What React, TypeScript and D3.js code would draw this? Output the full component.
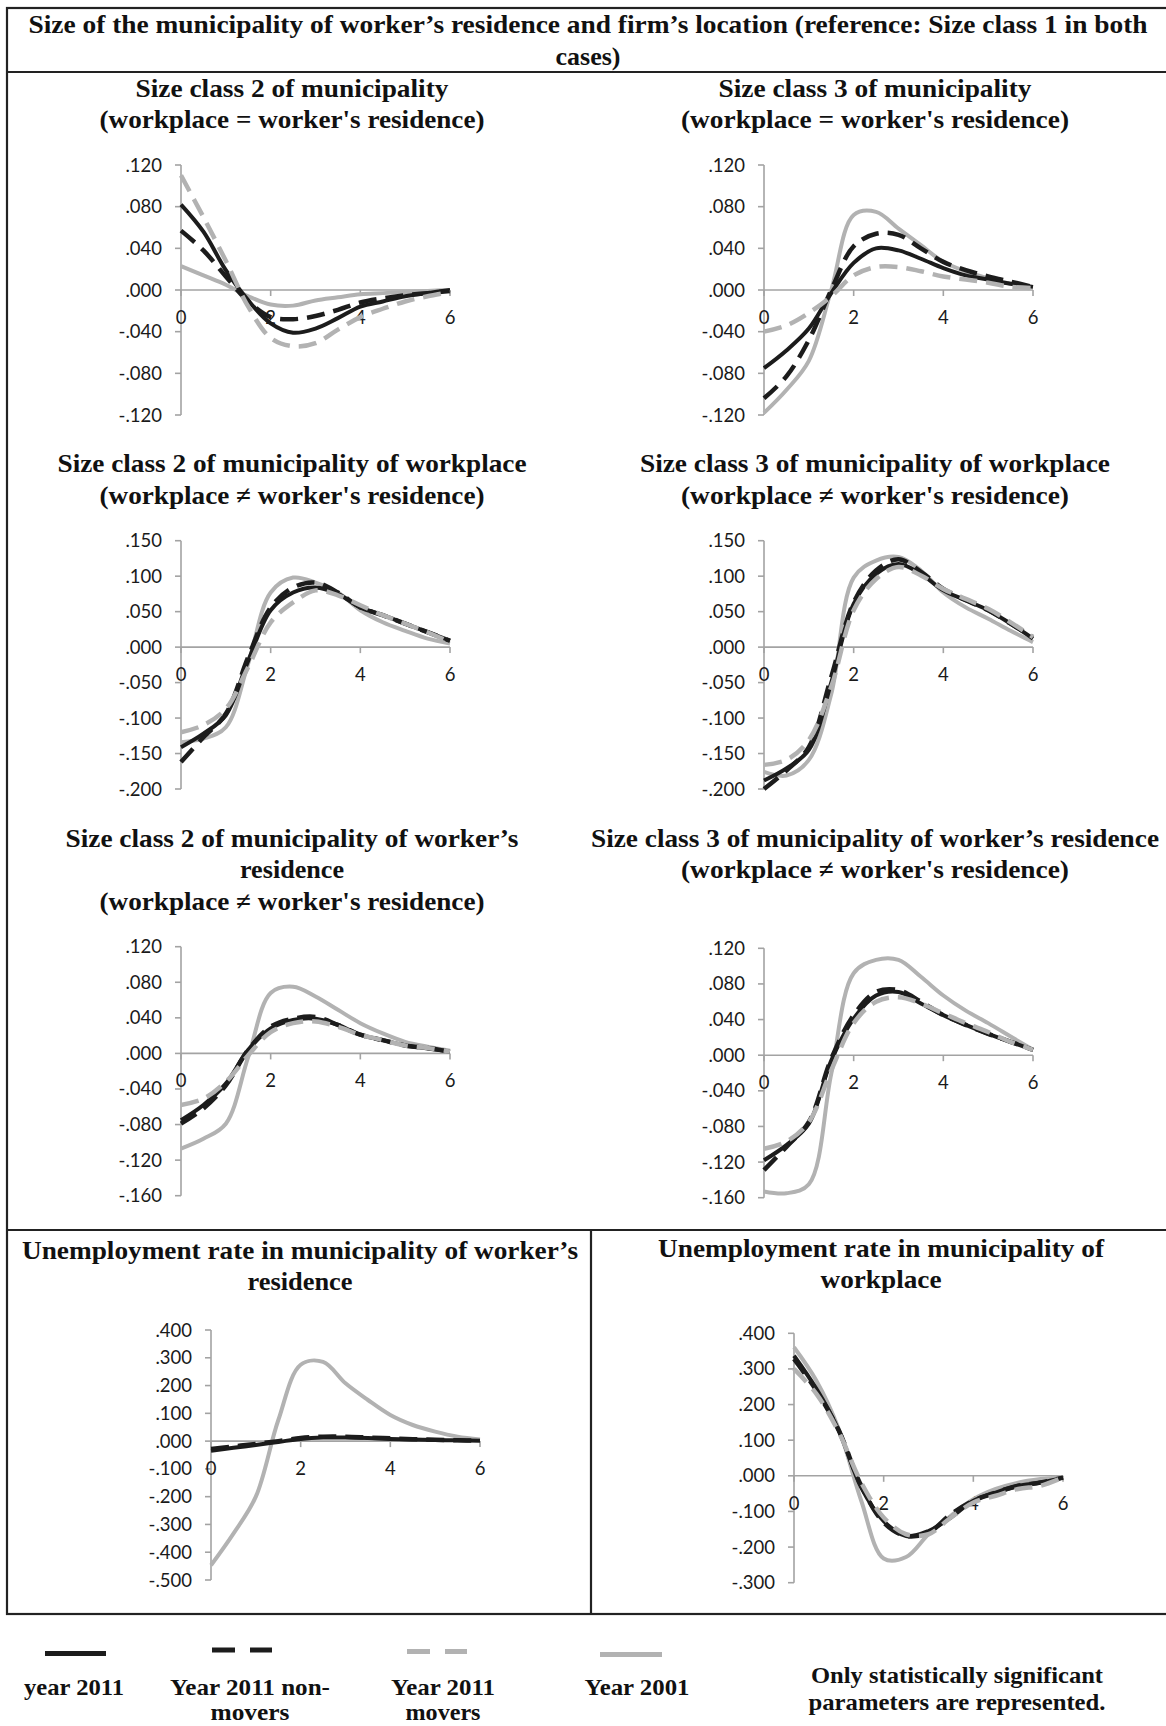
import React from "react";
import * as d3 from "d3";

// ---------------- DATA ----------------
const X_VALUES = [0, 0.5, 1, 1.5, 2, 2.5, 3, 3.5, 4, 4.5, 5, 5.5, 6];
const X_TICKS = [0, 2, 4, 6];
const SERIES_NAMES = ["year 2011", "Year 2011 non-movers", "Year 2011 movers", "Year 2001"];

// Panel 1: Size class 2 of municipality (workplace = worker's residence)
const p1Year2011 = [0.082, 0.056, 0.019, -0.010, -0.032, -0.041, -0.037, -0.027, -0.016, -0.011, -0.006, -0.003, 0.0];
const p1NonMovers = [0.057, 0.038, 0.013, -0.011, -0.026, -0.028, -0.025, -0.019, -0.012, -0.008, -0.005, -0.003, -0.001];
const p1Movers = [0.110, 0.070, 0.028, -0.016, -0.046, -0.054, -0.051, -0.038, -0.026, -0.018, -0.011, -0.006, -0.002];
const p1Year2001 = [0.023, 0.014, 0.005, -0.006, -0.014, -0.015, -0.010, -0.007, -0.004, -0.003, -0.002, -0.001, 0.0];

// Panel 2: Size class 3 of municipality (workplace = worker's residence)
const p2Year2011 = [-0.075, -0.058, -0.037, -0.003, 0.026, 0.040, 0.038, 0.030, 0.021, 0.014, 0.010, 0.006, 0.003];
const p2NonMovers = [-0.104, -0.083, -0.048, 0.0, 0.042, 0.054, 0.053, 0.040, 0.027, 0.019, 0.013, 0.008, 0.003];
const p2Movers = [-0.040, -0.034, -0.022, -0.006, 0.014, 0.022, 0.022, 0.018, 0.013, 0.010, 0.007, 0.003, 0.002];
const p2Year2001 = [-0.118, -0.096, -0.068, 0.0, 0.072, 0.075, 0.059, 0.043, 0.027, 0.018, 0.011, 0.006, 0.003];

// Panel 3: Size class 2 of municipality of workplace
const p3Year2011 = [-0.141, -0.122, -0.096, -0.019, 0.052, 0.077, 0.084, 0.075, 0.056, 0.045, 0.033, 0.021, 0.009];
const p3NonMovers = [-0.162, -0.127, -0.094, -0.014, 0.056, 0.084, 0.091, 0.077, 0.056, 0.045, 0.033, 0.021, 0.009];
const p3Movers = [-0.120, -0.110, -0.087, -0.028, 0.035, 0.063, 0.080, 0.073, 0.059, 0.045, 0.033, 0.021, 0.007];
const p3Year2001 = [-0.134, -0.129, -0.113, -0.023, 0.077, 0.098, 0.091, 0.077, 0.052, 0.035, 0.023, 0.012, 0.005];

// Panel 4: Size class 3 of municipality of workplace
const p4Year2011 = [-0.188, -0.171, -0.145, -0.050, 0.061, 0.103, 0.117, 0.103, 0.080, 0.066, 0.052, 0.033, 0.012];
const p4NonMovers = [-0.200, -0.174, -0.141, -0.042, 0.063, 0.108, 0.124, 0.106, 0.082, 0.066, 0.052, 0.033, 0.014];
const p4Movers = [-0.166, -0.159, -0.131, -0.056, 0.052, 0.096, 0.113, 0.101, 0.082, 0.068, 0.054, 0.035, 0.014];
const p4Year2001 = [-0.176, -0.181, -0.159, -0.066, 0.098, 0.122, 0.127, 0.108, 0.077, 0.056, 0.040, 0.023, 0.007];

// Panel 5: Size class 2 of municipality of worker's residence
const p5Year2011 = [-0.075, -0.058, -0.034, 0.004, 0.028, 0.0375, 0.039, 0.032, 0.021, 0.015, 0.009, 0.0055, 0.002];
const p5NonMovers = [-0.079, -0.062, -0.036, 0.004, 0.030, 0.039, 0.041, 0.032, 0.021, 0.015, 0.009, 0.006, 0.002];
const p5Movers = [-0.058, -0.051, -0.032, -0.002, 0.024, 0.034, 0.036, 0.030, 0.021, 0.015, 0.009, 0.006, 0.002];
const p5Year2001 = [-0.107, -0.096, -0.079, -0.004, 0.068, 0.075, 0.064, 0.049, 0.034, 0.0225, 0.013, 0.0075, 0.003];

// Panel 6: Size class 3 of municipality of worker's residence
const p6Year2011 = [-0.118, -0.101, -0.077, -0.006, 0.041, 0.067, 0.071, 0.058, 0.045, 0.034, 0.024, 0.015, 0.006];
const p6NonMovers = [-0.129, -0.103, -0.075, -0.004, 0.045, 0.071, 0.073, 0.060, 0.045, 0.034, 0.024, 0.015, 0.006];
const p6Movers = [-0.105, -0.097, -0.075, -0.017, 0.036, 0.060, 0.065, 0.058, 0.047, 0.036, 0.026, 0.015, 0.006];
const p6Year2001 = [-0.153, -0.155, -0.145, -0.021, 0.092, 0.107, 0.107, 0.088, 0.067, 0.050, 0.036, 0.021, 0.006];

// Panel 7: Unemployment rate in municipality of worker's residence (movers not significant)
const p7Year2011 = [-0.035, -0.024, -0.014, -0.003, 0.008, 0.013, 0.013, 0.011, 0.008, 0.006, 0.004, 0.003, 0.001];
const p7NonMovers = [-0.028, -0.019, -0.010, 0.0, 0.011, 0.016, 0.016, 0.013, 0.010, 0.007, 0.005, 0.003, 0.001];
const p7Movers: number[] | null = null;
const p7Year2001 = [-0.447, -0.333, -0.200, 0.075, 0.275, 0.285, 0.208, 0.148, 0.094, 0.058, 0.034, 0.016, 0.006];

// Panel 8: Unemployment rate in municipality of workplace
const p8Year2011 = [0.337, 0.244, 0.127, -0.033, -0.127, -0.169, -0.155, -0.117, -0.070, -0.047, -0.028, -0.019, -0.005];
const p8NonMovers = [0.328, 0.239, 0.127, -0.028, -0.131, -0.169, -0.159, -0.108, -0.070, -0.047, -0.028, -0.019, -0.005];
const p8Movers = [0.300, 0.230, 0.122, -0.019, -0.117, -0.164, -0.164, -0.117, -0.075, -0.056, -0.037, -0.028, -0.005];
const p8Year2001 = [0.361, 0.267, 0.131, -0.070, -0.232, -0.228, -0.164, -0.112, -0.066, -0.037, -0.019, -0.009, -0.003];

// y-axis tick ranges [min, max, step]
const Y_TICK_RANGES = [
  [-0.12, 0.12, 0.04],
  [-0.12, 0.12, 0.04],
  [-0.2, 0.15, 0.05],
  [-0.2, 0.15, 0.05],
  [-0.16, 0.12, 0.04],
  [-0.16, 0.12, 0.04],
  [-0.5, 0.4, 0.1],
  [-0.3, 0.4, 0.1],
];

const MAIN_TITLE = [
  "Size of the municipality of worker’s residence and firm’s location (reference: Size class 1 in both",
  "cases)",
];
const PANEL_TITLES = [
  ["Size class 2 of municipality", "(workplace = worker's residence)"],
  ["Size class 3 of municipality", "(workplace = worker's residence)"],
  ["Size class 2 of municipality of workplace", "(workplace ≠ worker's residence)"],
  ["Size class 3 of municipality of workplace", "(workplace ≠ worker's residence)"],
  ["Size class 2 of municipality of worker’s", "residence", "(workplace ≠ worker's residence)"],
  ["Size class 3 of municipality of worker’s residence", "(workplace ≠ worker's residence)"],
  ["Unemployment rate in municipality of worker’s", "residence"],
  ["Unemployment rate in municipality of", "workplace"],
];
const LEGEND_LABELS = [["year 2011"], ["Year 2011 non-", "movers"], ["Year 2011", "movers"], ["Year 2001"]];
const NOTE = ["Only statistically significant", "parameters are represented."];

const PANEL_SERIES = [
  [p1Year2011, p1NonMovers, p1Movers, p1Year2001],
  [p2Year2011, p2NonMovers, p2Movers, p2Year2001],
  [p3Year2011, p3NonMovers, p3Movers, p3Year2001],
  [p4Year2011, p4NonMovers, p4Movers, p4Year2001],
  [p5Year2011, p5NonMovers, p5Movers, p5Year2001],
  [p6Year2011, p6NonMovers, p6Movers, p6Year2001],
  [p7Year2011, p7NonMovers, p7Movers, p7Year2001],
  [p8Year2011, p8NonMovers, p8Movers, p8Year2001],
];

// ---------------- LAYOUT / STYLE ----------------
const W = 1166;
const H = 1726;
const BLACK = "#1c1c1c";
const GRAY = "#b2b2b2";
const AXIS = "#a3a3a3";
const FRAME = "#222";
const SERIF = "'Liberation Serif', 'Times New Roman', serif";
const SANS = "Lato, 'Open Sans', sans-serif";

const SERIES_STYLE = [
  { color: BLACK, width: 4, dash: "" },
  { color: BLACK, width: 4.5, dash: "18 9" },
  { color: GRAY, width: 4.5, dash: "18 9" },
  { color: GRAY, width: 4, dash: "" },
];
const DRAW_ORDER = [3, 0, 1, 2];

// plot boxes: [xLeft, xRight, yTop, yBottom]
const PLOT_BOXES = [
  [181, 450, 165, 415],
  [764, 1033, 165, 415],
  [181, 450, 540.7, 789],
  [764, 1033, 540.7, 789],
  [181, 450, 946.7, 1195.7],
  [764, 1033, 948.3, 1197.7],
  [211, 480, 1330, 1580],
  [794, 1063, 1333.3, 1582.7],
];

// title layout: centre x, baselines, widths
const TITLE_LAYOUT = [
  { cx: 292, ys: [97, 128], ws: [313, 385] },
  { cx: 875, ys: [97, 128], ws: [313, 388] },
  { cx: 292, ys: [472, 504], ws: [469, 385] },
  { cx: 875, ys: [472, 504], ws: [470, 388] },
  { cx: 292, ys: [847, 878, 910], ws: [453, 104, 385] },
  { cx: 875, ys: [847, 878], ws: [568, 388] },
  { cx: 300, ys: [1259, 1290], ws: [556, 105] },
  { cx: 881, ys: [1257, 1288], ws: [446, 121] },
];

const fmt = (v: number) => {
  const s = d3.format(".3f")(Math.abs(v) < 1e-9 ? 0 : v);
  return s.replace("\u2212", "-").replace("0.", ".");
};

function Panel({ idx }: { idx: number }) {
  const [xl, xr, yt, yb] = PLOT_BOXES[idx];
  const [mn, mx, step] = Y_TICK_RANGES[idx];
  const x = d3.scaleLinear().domain([0, 6]).range([xl, xr]);
  const y = d3.scaleLinear().domain([mn, mx]).range([yb, yt]);
  const n = Math.round((mx - mn) / step);
  const yTicks = d3.range(n + 1).map((i) => mn + i * step);
  const line = d3
    .line<number>()
    .x((_, i) => x(X_VALUES[i]))
    .y((d) => y(d))
    .curve(d3.curveCatmullRom.alpha(0.5));
  const series = PANEL_SERIES[idx];
  const y0 = y(0);
  return (
    <g>
      {/* y axis */}
      <line x1={xl} x2={xl} y1={y(mx)} y2={y(mn)} stroke={AXIS} strokeWidth={1.6} />
      {yTicks.map((t, i) => (
        <g key={i}>
          <line x1={xl - 6} x2={xl} y1={y(t)} y2={y(t)} stroke={AXIS} strokeWidth={1.6} />
          <text x={xl - 19} y={y(t) + 6.5} textAnchor="end" fontFamily={SANS} fontSize={18.5} fill="#1a1a1a">
            {fmt(t)}
          </text>
        </g>
      ))}
      {/* x axis at zero */}
      <line x1={xl} x2={xr} y1={y0} y2={y0} stroke={AXIS} strokeWidth={1.6} />
      {X_TICKS.map((t) => (
        <g key={t}>
          <line x1={x(t)} x2={x(t)} y1={y0} y2={y0 + 6} stroke={AXIS} strokeWidth={1.6} />
          <text x={x(t)} y={y0 + 34} textAnchor="middle" fontFamily={SANS} fontSize={18.5} fill="#1a1a1a">
            {t}
          </text>
        </g>
      ))}
      {DRAW_ORDER.map((si) => {
        const data = series[si];
        if (!data) return null;
        const st = SERIES_STYLE[si];
        return (
          <path
            key={si}
            d={line(data) || ""}
            fill="none"
            stroke={st.color}
            strokeWidth={st.width}
            strokeDasharray={st.dash || undefined}
            strokeLinejoin="round"
          />
        );
      })}
    </g>
  );
}

function TitleText({ x, y, w, text, size = 26 }: { x: number; y: number; w: number; text: string; size?: number }) {
  return (
    <text
      x={x}
      y={y}
      textAnchor="middle"
      fontFamily={SERIF}
      fontWeight="bold"
      fontSize={size}
      fill="#111"
      textLength={w}
      lengthAdjust="spacingAndGlyphs"
    >
      {text}
    </text>
  );
}

const LEGEND_LAYOUT = [
  { cx: 74, ys: [1695, 1720], ws: [100], line: [45, 106, 1653.5] },
  { cx: 250, ys: [1695, 1720], ws: [160, 79], line: [212, 272, 1650] },
  { cx: 443, ys: [1695, 1720], ws: [104, 75], line: [407, 467, 1651.5] },
  { cx: 637, ys: [1695, 1720], ws: [105], line: [600, 662, 1654.5] },
];

export default function App() {
  return (
    <svg
      width={W}
      height={H}
      viewBox={`0 0 ${W} ${H}`}
      style={{ position: "absolute", left: 0, top: 0, background: "#fff" }}
    >
      <rect x={0} y={0} width={W} height={H} fill="#fff" />
      {/* frame */}
      <rect x={7} y={8} width={1163} height={1606} fill="none" stroke={FRAME} strokeWidth={2.2} />
      <line x1={7} x2={1170} y1={72} y2={72} stroke={FRAME} strokeWidth={2.2} />
      <line x1={7} x2={1170} y1={1230} y2={1230} stroke={FRAME} strokeWidth={2.2} />
      <line x1={591} x2={591} y1={1230} y2={1614} stroke={FRAME} strokeWidth={2.2} />

      <TitleText x={588} y={33} w={1119} text={MAIN_TITLE[0]} />
      <TitleText x={588} y={65} w={65} text={MAIN_TITLE[1]} />

      {PANEL_TITLES.map((lines, pi) =>
        lines.map((t, li) => (
          <TitleText
            key={`${pi}-${li}`}
            x={TITLE_LAYOUT[pi].cx}
            y={TITLE_LAYOUT[pi].ys[li]}
            w={TITLE_LAYOUT[pi].ws[li]}
            text={t}
          />
        ))
      )}

      {PANEL_SERIES.map((_, i) => (
        <Panel key={i} idx={i} />
      ))}

      {/* legend */}
      {LEGEND_LABELS.map((lines, i) => {
        const L = LEGEND_LAYOUT[i];
        const st = SERIES_STYLE[i];
        const [lx1, lx2, ly] = L.line;
        return (
          <g key={i}>
            <line
              x1={lx1}
              x2={lx2}
              y1={ly}
              y2={ly}
              stroke={st.color}
              strokeWidth={5}
              strokeDasharray={st.dash ? "23 15" : undefined}
            />
            {lines.map((t, li) => (
              <TitleText key={li} x={L.cx} y={L.ys[li]} w={L.ws[li]} text={t} size={23} />
            ))}
          </g>
        );
      })}
      <TitleText x={957} y={1683} w={292} text={NOTE[0]} size={23} />
      <TitleText x={957} y={1710} w={297} text={NOTE[1]} size={23} />
      <title>{SERIES_NAMES.join(", ")}</title>
    </svg>
  );
}
